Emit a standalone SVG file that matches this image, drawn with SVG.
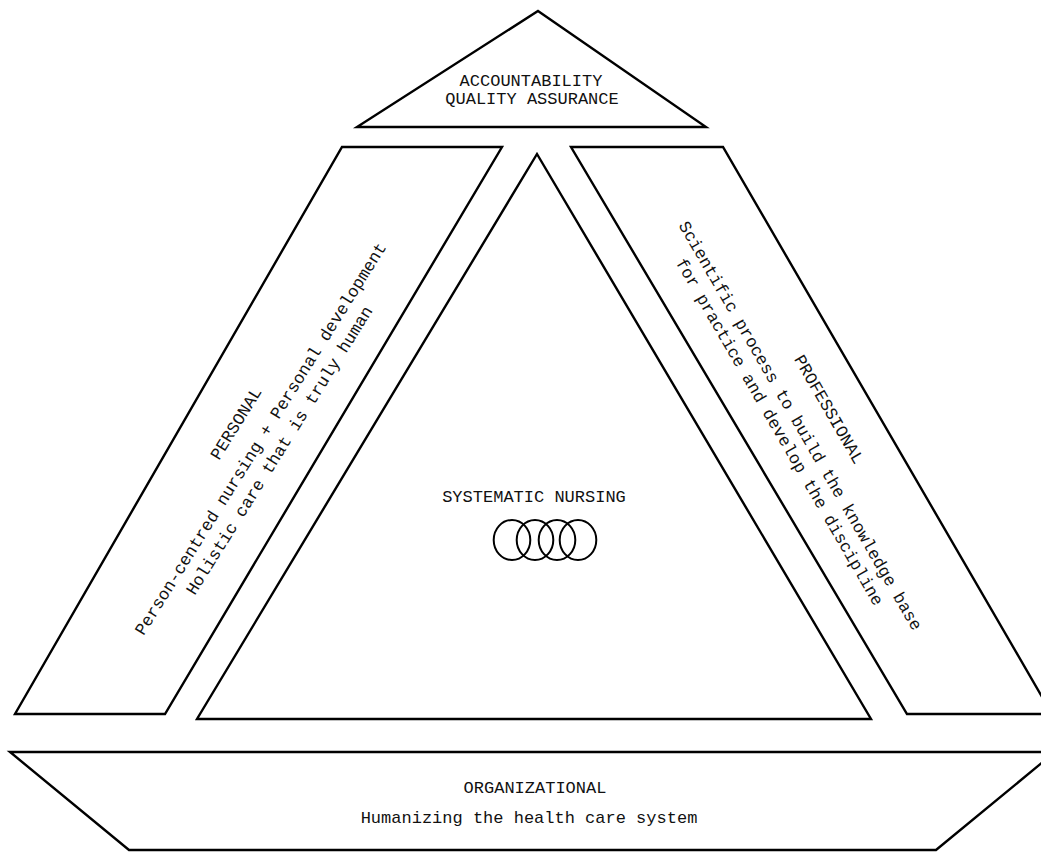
<svg xmlns="http://www.w3.org/2000/svg" width="1041" height="852" viewBox="0 0 1041 852">
  <style>
    .shape { fill: #ffffff; stroke: #000000; stroke-width: 2.4; stroke-linejoin: miter; }
    .ring { fill: none; stroke: #000000; stroke-width: 2; }
    .t { font-family: "Liberation Mono", "Courier New", monospace; font-size: 17px; fill: #111111; text-anchor: middle; }
  </style>
  <rect x="0" y="0" width="1041" height="852" fill="#ffffff"/>

  <g id="accountability">
    <polygon class="shape" points="538,11 706,127 357,127"/>
    <text class="t" x="531" y="86">ACCOUNTABILITY</text>
    <text class="t" x="532" y="104">QUALITY ASSURANCE</text>
  </g>

  <g id="personal">
    <polygon class="shape" points="342,147 502,147 165,714 15,714"/>
    <g transform="translate(261,439) rotate(-58)">
      <text class="t" x="0" y="-24">PERSONAL</text>
      <text class="t" x="0" y="5">Person-centred nursing + Personal development</text>
      <text class="t" x="0" y="27">Holistic care that is truly human</text>
    </g>
  </g>

  <g id="systematic-nursing">
    <polygon class="shape" points="537,154 871,719 197,719"/>
    <text class="t" x="534" y="502">SYSTEMATIC NURSING</text>
    <ellipse class="ring" cx="512" cy="540" rx="18.3" ry="20"/>
    <ellipse class="ring" cx="535" cy="540" rx="18.3" ry="20"/>
    <ellipse class="ring" cx="557" cy="540" rx="18.3" ry="20"/>
    <ellipse class="ring" cx="578" cy="540" rx="18.3" ry="20"/>
  </g>

  <g id="professional">
    <polygon class="shape" points="571,147 723,147 1052,714 907,714"/>
    <g transform="translate(800,426) rotate(60)">
      <text class="t" x="0" y="-28">PROFESSIONAL</text>
      <text class="t" x="0" y="5">Scientific process to build the knowledge base</text>
      <text class="t" x="-5" y="26">for practice and develop the discipline</text>
    </g>
  </g>

  <g id="organizational">
    <polygon class="shape" points="10,752 1055,752 936,850 129,850"/>
    <text class="t" x="535" y="793">ORGANIZATIONAL</text>
    <text class="t" x="529" y="823">Humanizing the health care system</text>
  </g>

  <g id="connectors"/>
</svg>
